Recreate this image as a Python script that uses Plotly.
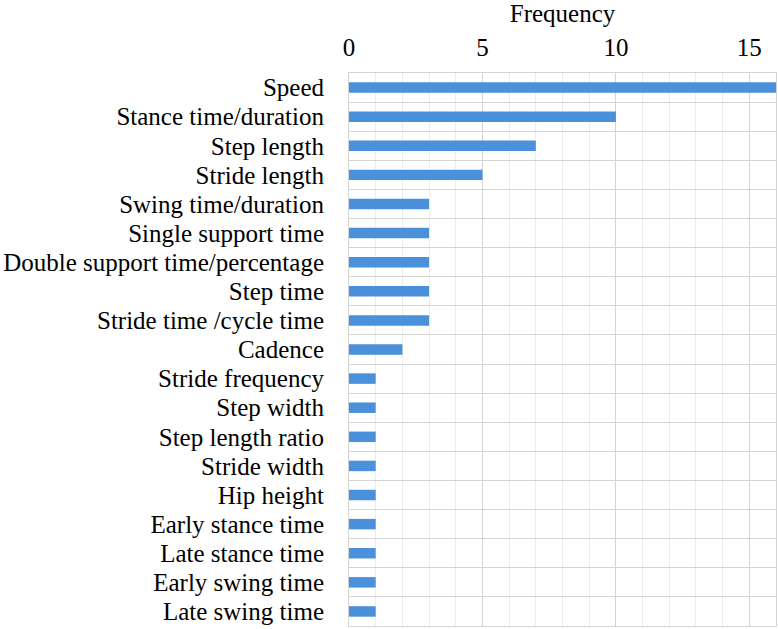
import plotly.graph_objects as go

categories = [
    "Speed", "Stance time/duration", "Step length", "Stride length",
    "Swing time/duration", "Single support time", "Double support time/percentage",
    "Step time", "Stride time /cycle time", "Cadence", "Stride frequency",
    "Step width", "Step length ratio", "Stride width", "Hip height",
    "Early stance time", "Late stance time", "Early swing time", "Late swing time",
]
frequency = [16, 10, 7, 5, 3, 3, 3, 3, 3, 2, 1, 1, 1, 1, 1, 1, 1, 1, 1]
x_ticks = [0, 5, 10, 15]

FONT = "Liberation Serif"

fig = go.Figure(go.Bar(
    x=frequency, y=categories, orientation="h",
    marker=dict(color="#4A90DA", line=dict(width=0)),
))

fig.update_layout(
    width=778, height=629,
    margin=dict(l=349, r=2, t=73, b=3),
    paper_bgcolor="white", plot_bgcolor="white",
    bargap=0.64,
    showlegend=False,
    font=dict(family=FONT, size=25, color="black"),
    xaxis=dict(
        side="top", range=[0, 16], tickvals=x_ticks,
        showgrid=True, gridcolor="#d4d4d4", gridwidth=1,
        minor=dict(dtick=1, showgrid=True, gridcolor="#ececec", gridwidth=1),
        showline=True, linecolor="#d4d4d4", mirror=True,
        zeroline=False, ticks="", ticklabelstandoff=6,
        title=dict(text="Frequency", font=dict(family=FONT, size=25), standoff=10),
        tickfont=dict(family=FONT, size=25),
    ),
    yaxis=dict(
        type="category", autorange="reversed", tickson="boundaries",
        tickmode="linear", tick0=0, dtick=1,
        showgrid=True, gridcolor="#d4d4d4", gridwidth=1,
        showline=True, linecolor="#d4d4d4", mirror=True,
        ticks="", ticklabelstandoff=19,
        tickfont=dict(family=FONT, size=25),
    ),
)

fig.write_html("out.html")
